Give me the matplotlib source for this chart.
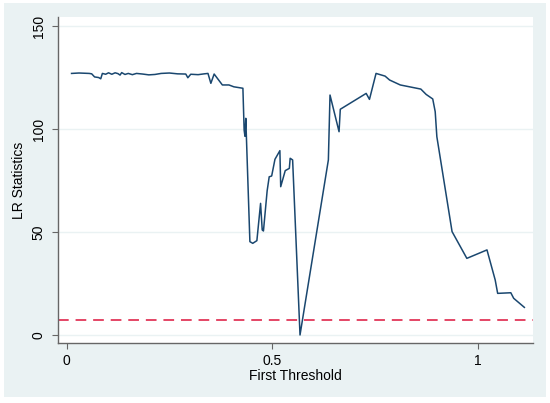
import matplotlib
matplotlib.use("Agg")
import matplotlib.pyplot as plt
from matplotlib.patches import Rectangle

# LR statistic against the first threshold value
threshold = [0.012, 0.030, 0.055, 0.061, 0.068, 0.078, 0.083, 0.087, 0.095, 0.102,
             0.110, 0.118, 0.125, 0.130, 0.134, 0.142, 0.150, 0.160, 0.170, 0.185,
             0.200, 0.215, 0.230, 0.250, 0.270, 0.290, 0.295, 0.302, 0.320, 0.335,
             0.344, 0.351, 0.359, 0.379, 0.395, 0.407, 0.429, 0.432, 0.434, 0.436,
             0.446, 0.453, 0.463, 0.472, 0.476, 0.479, 0.488, 0.493, 0.499, 0.507,
             0.519, 0.521, 0.532, 0.542, 0.544, 0.550, 0.568, 0.637, 0.641, 0.663,
             0.666, 0.729, 0.737, 0.753, 0.775, 0.786, 0.812, 0.862, 0.875, 0.891,
             0.897, 0.901, 0.938, 0.974, 1.023, 1.043, 1.049, 1.081, 1.088, 1.114]
lr_stat = [127.0, 127.2, 127.0, 126.8, 125.3, 125.0, 124.4, 127.0, 126.6, 127.3,
           126.6, 127.3, 126.9, 126.2, 127.4, 126.5, 127.0, 126.4, 127.0, 126.7,
           126.3, 126.5, 127.0, 127.2, 126.8, 126.7, 124.9, 126.6, 126.4, 126.8,
           127.0, 122.2, 126.7, 121.4, 121.4, 120.5, 119.8, 99.5, 96.5, 105.2,
           45.3, 44.5, 45.8, 63.9, 51.0, 50.5, 70.0, 76.8, 77.2, 85.3,
           89.5, 72.0, 79.8, 80.9, 85.8, 85.0, 0.0, 85.0, 116.5, 98.7,
           109.6, 117.3, 114.4, 127.0, 125.7, 123.8, 121.4, 119.4, 116.8, 114.6,
           108.4, 96.3, 50.2, 37.2, 41.3, 26.7, 20.2, 20.5, 17.8, 13.4]
crit_value = 7.35

x_ticks = [0, 0.5, 1]
x_labels = ["0", "0.5", "1"]
y_ticks = [0, 50, 100, 150]

bg = "#eaf2f3"
plt.rcParams["font.family"] = ["Liberation Sans", "DejaVu Sans"]

fig = plt.figure(figsize=(5.5, 4.03), dpi=100, facecolor="white")
# stata-style graph region, kept behind the axes
fig.add_artist(Rectangle((4 / 550, 1 - 397 / 403), 542 / 550, 394 / 403,
                         transform=fig.transFigure, facecolor=bg,
                         edgecolor="none", zorder=-10))

ax = fig.add_axes([58 / 550, 1 - 343 / 403, 475 / 550, 326 / 403])
ax.set_facecolor("white")

for yv in y_ticks:
    ax.axhline(yv, color=bg, lw=1.0, zorder=1)

ax.plot(threshold, lr_stat, color="#1a476f", lw=1.1, zorder=3)
ax.axhline(crit_value, color="#dc143c", lw=1.1, ls=(0, (7, 4.5)), zorder=2)

ax.set_xlim(-0.021, 1.135)
ax.set_ylim(-3.9, 154.4)
ax.set_xticks(x_ticks)
ax.set_xticklabels(x_labels)
ax.set_yticks(y_ticks)
ax.set_yticklabels([str(v) for v in y_ticks], rotation=90, va="center")

for side in ["top", "right"]:
    ax.spines[side].set_visible(False)
for side in ["left", "bottom"]:
    ax.spines[side].set_color("#666666")
    ax.spines[side].set_linewidth(1.0)

ax.tick_params(axis="both", direction="out", length=4, width=0.8,
               color="#666666", labelsize=10, labelcolor="black")
ax.tick_params(axis="y", pad=5)
ax.tick_params(axis="x", pad=4)

ax.set_xlabel("First Threshold", fontsize=10, labelpad=1)
ax.set_ylabel("LR Statistics", fontsize=10, labelpad=4)

fig.savefig("out.png", dpi=100, facecolor="white")
